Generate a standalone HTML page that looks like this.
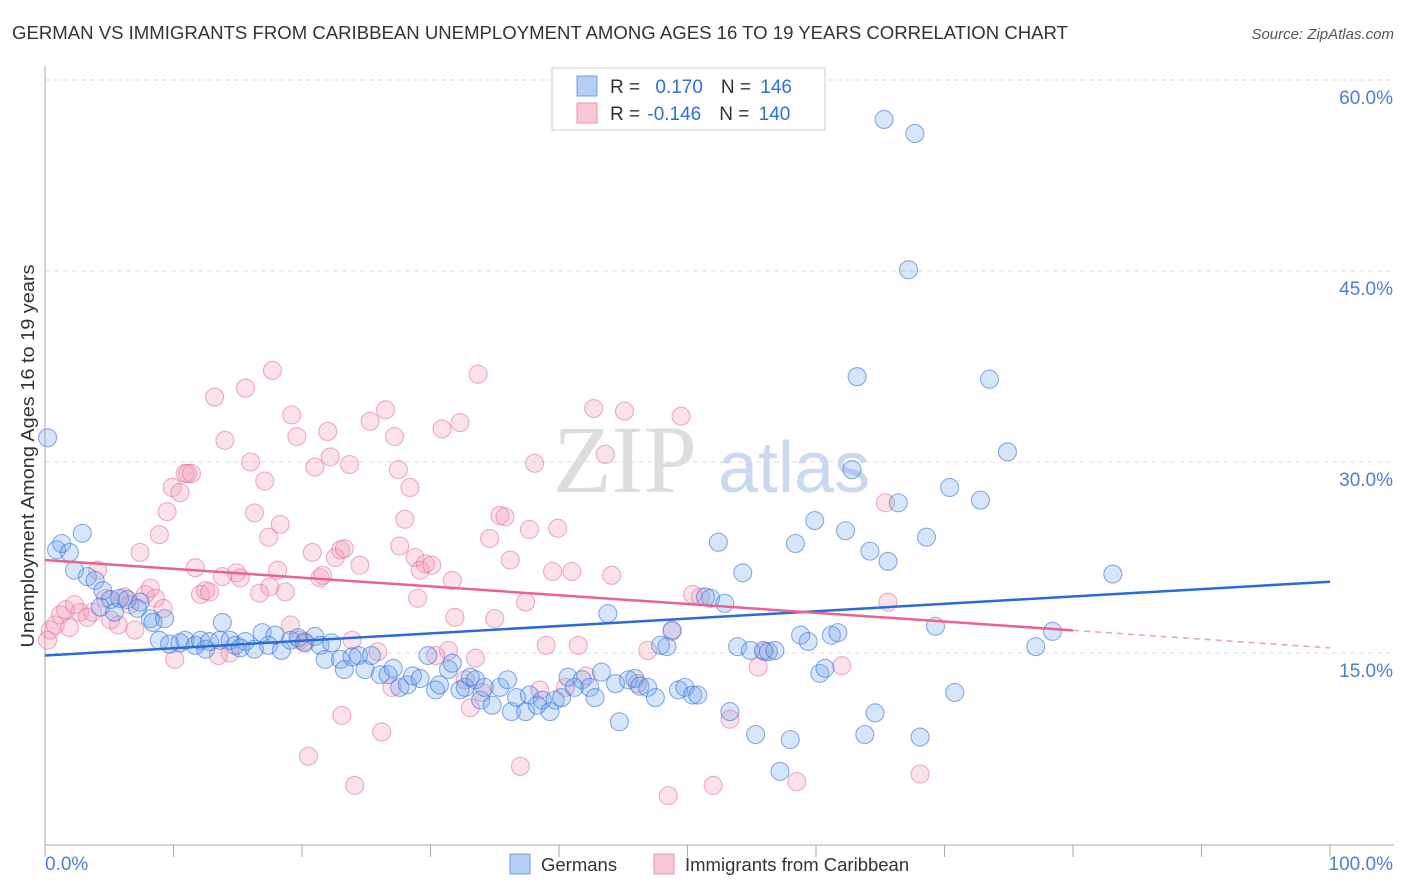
<!DOCTYPE html>
<html><head><meta charset="utf-8"><style>
body{margin:0;background:#fff;font-family:"Liberation Sans",sans-serif;}
svg{display:block}
</style></head><body>
<svg id="chart" width="1406" height="892" viewBox="0 0 1406 892">
<text x="12" y="39" font-size="18.5" fill="#333" textLength="1056" lengthAdjust="spacingAndGlyphs">GERMAN VS IMMIGRANTS FROM CARIBBEAN UNEMPLOYMENT AMONG AGES 16 TO 19 YEARS CORRELATION CHART</text>
<text x="1394" y="39" font-size="15" fill="#555" font-style="italic" text-anchor="end">Source: ZipAtlas.com</text>
<g>
<text x="553" y="492" font-size="96" fill="#ddd" font-family="Liberation Serif, serif">ZIP</text>
<text x="718" y="492" font-size="72" fill="#c9d9ef">atlas</text>
</g>
<g id="grid"></g>
<g id="axes"></g>
<g id="marks"></g>
<text transform="translate(34,456) rotate(-90)" font-size="18.5" fill="#333" text-anchor="middle" textLength="383" lengthAdjust="spacingAndGlyphs">Unemployment Among Ages 16 to 19 years</text>
<g>
<rect x="552" y="68" width="273" height="62" fill="#fff" stroke="#ccc"/>
<rect x="577" y="76" width="20" height="20" fill="#b4cff3" stroke="#6f9de0"/>
<rect x="577" y="103" width="20" height="20" fill="#f8c8d7" stroke="#eb95b1"/>
<text x="610" y="93" font-size="19" fill="#333">R = <tspan fill="#2f6fd6" dx="10">0.170</tspan><tspan dx="18" fill="#333">N = </tspan><tspan fill="#2f6fd6" dx="4">146</tspan></text>
<text x="610" y="120" font-size="19" fill="#333">R = <tspan fill="#2f6fd6" dx="2">-0.146</tspan><tspan dx="18" fill="#333">N = </tspan><tspan fill="#2f6fd6" dx="4">140</tspan></text>
</g>
<g>
<rect x="510" y="854" width="20" height="20" fill="#b4cff3" stroke="#6f9de0"/>
<text x="541" y="871" font-size="18.5" fill="#333">Germans</text>
<text x="685" y="871" font-size="18.5" fill="#333">Immigrants from Caribbean</text>
<rect x="654" y="854" width="20" height="20" fill="#f8c8d7" stroke="#eb95b1"/>
</g>
</svg>
<script>
const yTicks=[15,30,45,60];
const yTickLabels=["15.0%","30.0%","45.0%","60.0%"];
const xTicks=[0,10,20,30,40,50,60,70,80,90,100];
const xEndLabels=["0.0%","100.0%"];
const germansX=[0.2,0.9,1.3,1.9,2.9,2.3,3.3,3.9,4.5,5.1,4.3,5.4,5.8,6.4,7.4,7.2,8.2,8.4,9.3,8.9,9.7,10.5,10.9,11.7,12.5,12.1,12.8,13.8,13.6,14.4,14.8,15.6,15.2,16.3,16.9,17.4,17.9,18.4,19.1,19.7,20.2,21.0,21.4,21.8,22.3,23.0,23.3,23.9,24.4,24.9,25.4,26.1,26.7,27.1,27.6,28.2,28.6,29.2,29.8,30.4,30.7,31.4,31.7,32.3,32.7,33.1,33.5,33.9,34.2,34.8,35.4,36.0,36.3,36.7,37.4,37.7,38.3,38.7,39.3,39.7,40.2,40.7,41.2,41.8,42.4,42.8,43.3,43.8,44.4,44.7,45.4,45.9,46.3,46.9,47.5,47.9,48.4,48.8,49.3,49.8,50.4,50.8,51.4,51.8,52.4,52.9,53.3,53.9,54.3,54.9,55.3,55.9,56.3,56.8,57.2,58.0,58.4,58.8,59.4,59.9,60.3,60.7,61.2,61.7,62.3,62.8,63.2,63.8,64.2,64.6,65.3,65.6,66.4,67.2,67.7,68.1,68.6,69.3,70.4,70.8,72.8,73.5,74.9,77.1,78.4,83.1];
const germansY=[31.9,23.1,23.6,22.9,24.4,21.5,21.0,20.7,19.9,19.2,18.6,18.2,19.3,19.2,19.0,18.5,17.7,17.4,17.7,16.0,15.7,15.8,16.0,15.6,15.3,16.0,15.9,17.4,16.0,16.0,15.6,15.9,15.4,15.3,16.6,15.6,16.4,15.2,16.0,16.2,15.8,16.3,15.6,14.5,15.8,14.5,13.7,14.7,14.8,13.7,14.8,13.3,13.3,13.8,12.3,12.5,13.2,13.0,14.8,12.1,12.5,13.7,14.2,12.1,12.3,13.1,12.9,11.3,12.3,10.9,12.3,12.9,10.4,11.5,10.4,11.7,10.9,11.3,10.4,11.3,11.5,13.1,12.3,12.9,12.3,11.5,13.5,18.1,12.6,9.6,12.9,13.0,12.4,12.3,11.5,15.6,15.5,16.8,12.1,12.3,11.7,11.7,19.4,19.3,23.7,18.9,10.4,15.5,21.3,15.2,8.6,15.2,15.1,15.2,5.7,8.2,23.6,16.4,15.9,25.4,13.4,13.8,16.4,16.6,24.6,29.4,36.7,8.6,23.0,10.3,56.9,22.2,26.8,45.1,55.8,8.4,24.1,17.1,28.0,11.9,27.0,36.5,30.8,15.5,16.7,21.2];
const caribX=[0.2,0.4,0.8,1.2,1.6,1.9,2.3,2.7,3.3,3.7,4.1,4.7,5.1,5.7,6.2,6.6,7.0,7.4,7.8,8.2,8.6,8.9,9.2,9.5,9.9,10.1,10.5,10.9,11.1,11.4,11.7,12.1,12.5,12.8,13.2,13.5,13.8,14.0,14.4,14.9,15.2,15.6,16.0,16.3,16.7,17.1,17.4,17.5,17.7,18.1,18.3,18.7,19.1,19.2,19.6,19.8,20.2,20.5,20.8,21.0,21.4,21.6,22.0,22.2,22.6,23.0,23.1,23.3,23.7,23.9,24.1,24.5,25.3,25.9,26.2,26.5,27.0,27.2,27.5,27.6,28.0,28.4,28.8,29.0,29.2,29.6,30.1,30.4,30.9,31.4,31.7,31.9,32.3,32.7,33.1,33.5,33.7,34.0,34.6,35.0,35.4,35.8,36.2,37.0,37.4,37.7,38.1,38.5,39.0,39.5,39.9,40.5,41.0,41.5,42.1,42.7,43.6,44.1,45.1,46.1,46.9,48.5,48.8,49.5,50.4,51.0,52.0,53.3,55.5,56.0,58.5,62.0,65.4,65.6,68.1];
const caribY=[16.0,16.8,17.2,18.0,18.4,17.0,18.8,18.2,17.8,18.2,21.5,19.3,17.6,17.2,19.4,18.8,16.8,22.9,19.6,20.1,19.3,24.3,18.5,26.1,28.0,14.5,27.6,29.1,29.1,29.1,21.7,19.6,19.9,19.8,35.1,14.8,21.0,31.7,15.0,21.3,20.9,35.8,30.0,26.0,19.7,28.5,24.1,20.2,37.2,21.5,25.1,19.8,17.2,33.7,32.0,16.0,15.9,6.9,22.9,29.6,20.9,21.1,32.4,30.4,22.5,23.1,10.1,23.2,29.8,16.0,4.6,21.9,33.2,15.1,8.8,34.1,12.3,32.0,29.4,23.4,25.5,28.0,22.5,19.3,21.5,22.0,21.9,14.8,32.6,15.2,20.7,17.8,33.1,12.9,10.7,14.6,36.9,11.9,24.0,17.7,25.8,25.7,22.3,6.1,19.0,24.7,29.9,12.1,15.6,21.4,24.8,12.3,21.4,15.6,13.2,34.2,30.6,21.1,34.0,12.6,15.2,3.8,16.7,33.6,19.6,19.4,4.6,9.8,13.9,15.1,4.9,14.0,26.8,19.0,5.5];
const germansTrend=[14.8,20.6];
const caribTrend=[22.3,15.4];
const caribTrendSolidEnd=80;

const NS="http://www.w3.org/2000/svg";
const X0=45,X1=1330,Y0=844,YPER=191/15;
function xs(v){return X0+(X1-X0)*v/100;}
function ys(v){return Y0-v*YPER;}
function mk(tag,attrs,parent){const e=document.createElementNS(NS,tag);for(const k in attrs)e.setAttribute(k,attrs[k]);parent.appendChild(e);return e;}
const grid=document.getElementById('grid'),axes=document.getElementById('axes'),marks=document.getElementById('marks');
yTicks.forEach((t,i)=>{
 const l=mk('line',{x1:X0,x2:1394,y1:ys(t),y2:ys(t),stroke:'#ddd','stroke-dasharray':'5,4'},grid);
 
 
 const tx=mk('text',{x:1393,y:ys(t)+24,'font-size':19,fill:'#4a7fd4','text-anchor':'end'},axes);
 tx.textContent=yTickLabels[i];
 
 
});
const ya=mk('line',{x1:X0,x2:X0,y1:66,y2:845,stroke:'#aaa'},axes);


const xa=mk('line',{x1:X0,x2:1394,y1:845,y2:845,stroke:'#aaa'},axes);


xTicks.forEach(t=>{
 const l=mk('line',{x1:xs(t),x2:xs(t),y1:845,y2:857,stroke:'#aaa'},axes);
 
 
});
const xl0=mk('text',{x:45,y:870,'font-size':19,fill:'#4a7fd4'},axes);xl0.textContent=xEndLabels[0];


const xl1=mk('text',{x:1393,y:870,'font-size':19,fill:'#4a7fd4','text-anchor':'end'},axes);xl1.textContent=xEndLabels[1];


caribX.forEach((x,i)=>{
 const c=mk('circle',{cx:xs(x),cy:ys(caribY[i]),r:9,fill:'rgba(240,150,180,0.28)',stroke:'rgba(228,120,155,0.6)','stroke-width':1.1},marks);
 
 
});
germansX.forEach((x,i)=>{
 const c=mk('circle',{cx:xs(x),cy:ys(germansY[i]),r:9,fill:'rgba(110,160,235,0.28)',stroke:'rgba(60,120,215,0.6)','stroke-width':1.1},marks);
 
 
});
const gl=mk('line',{x1:xs(0),y1:ys(germansTrend[0]),x2:xs(100),y2:ys(germansTrend[1]),stroke:'#2a6bd6','stroke-width':2.5},marks);


const cy=v=>caribTrend[0]+(caribTrend[1]-caribTrend[0])*v/100;
const cl=mk('line',{x1:xs(0),y1:ys(cy(0)),x2:xs(caribTrendSolidEnd),y2:ys(cy(caribTrendSolidEnd)),stroke:'#e8648f','stroke-width':2.5},marks);


const cd=mk('line',{x1:xs(caribTrendSolidEnd),y1:ys(cy(caribTrendSolidEnd)),x2:xs(100),y2:ys(cy(100)),stroke:'#e8a0b8','stroke-width':1.5,'stroke-dasharray':'6,5'},marks);


</script>
</body></html>
